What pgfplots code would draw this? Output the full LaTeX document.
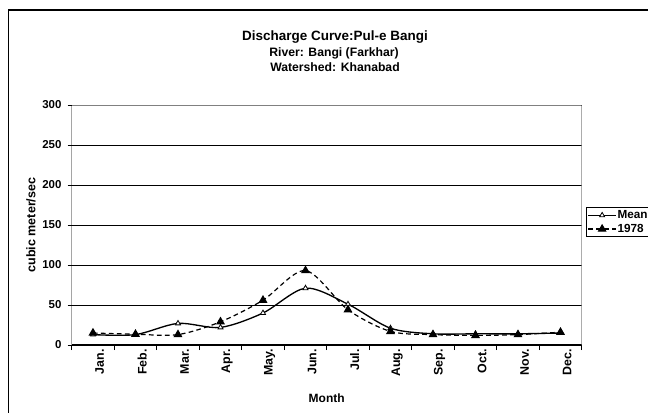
\documentclass[border=0pt]{standalone}
\usepackage{fontspec}
\setmainfont{Liberation Sans}
\usepackage{pgfplots}
\pgfplotsset{compat=1.18}
\pgfplotstableread{
m mean y1978
1 13 15
2 13 13.5
3 27 13
4 22 29
5 40 56
6 71 93
7 51 44
8 21 17
9 14 13
10 14 12
11 14 13
12 15 16
}\discharge
\begin{document}
\begin{tikzpicture}
\path[use as bounding box] (0,0) rectangle (486pt,309pt);
\fill[white] (0,0) rectangle (486pt,309pt);
\draw[line width=1pt] (6.2pt,-5pt) -- (6.2pt,301.5pt) -- (495pt,301.5pt);
\node[anchor=base, font=\bfseries\fontsize{10.1}{12}\selectfont] at (251.25pt,279pt) {Discharge Curve:Pul-e Bangi};
\node[anchor=base, font=\bfseries\fontsize{9.15}{11}\selectfont] at (250.5pt,266.6pt) {River: Bangi (Farkhar)};
\node[anchor=base, font=\bfseries\fontsize{9.15}{11}\selectfont] at (251.25pt,255.4pt) {Watershed: Khanabad};
\begin{axis}[
  at={(53.8pt,50.25pt)}, anchor=south west,
  scale only axis, width=382.5pt, height=180pt,
  xmin=0.5, xmax=12.5, ymin=0, ymax=300,
  ytick={0,50,...,300},
  xtick={1,...,12},
  xticklabels={Jan.,Feb.,Mar.,Apr.,May.,Jun.,Jul.,Aug.,Sep.,Oct.,Nov.,Dec.},
  minor xtick={0.5,1.5,...,12.5},
  xtick pos=bottom, ytick pos=left,
  axis line style={draw=none},
  tick align=outside,
  major tick length=3pt,
  minor tick length=3.75pt,
  major x tick style={draw=none},
  tick style={black, line width=0.75pt},
  ymajorgrids,
  major grid style={black, line width=0.75pt},
  /pgf/number format/assume math mode=true,
  tick label style={font=\bfseries\fontsize{8.6}{10}\selectfont},
  yticklabel style={inner sep=0pt, xshift=-4.5pt},
  xticklabel style={rotate=90, anchor=east, inner sep=0pt, yshift=-5pt, font=\bfseries\fontsize{9.3}{10}\selectfont},
  xlabel={Month},
  xlabel style={at={(axis description cs:0.5,-0.2375)}, anchor=base, font=\bfseries\fontsize{9}{11}\selectfont},
  ylabel={cubic meter/sec},
  ylabel style={at={(axis description cs:-0.0798,0.5)}, anchor=center, font=\bfseries\fontsize{9.4}{11}\selectfont},
  legend style={at={(axis description cs:1.0084,0.575)}, anchor=north west, draw=black, line width=0.75pt, fill=white,
    font=\bfseries\fontsize{8.8}{10}\selectfont, inner xsep=0.7pt, inner ysep=1.5pt, row sep=1.5pt,
    nodes={inner sep=0.6pt}},
  legend cell align=left,
  legend image code/.code={\draw[mark repeat=2,mark phase=2] plot coordinates {(0pt,0pt) (10.5pt,0pt) (21pt,0pt)};},
]
\addplot[black, line width=1pt, smooth, tension=0.5, mark=triangle*, mark size=2.2pt, mark options={solid, fill=white, line width=0.6pt}] table[x=m, y=mean] {\discharge};
\addlegendentry{Mean}
\addplot[black, line width=0.9pt, dashed, dash pattern=on 3.5pt off 2.5pt, smooth, tension=0.5, mark=triangle*, mark size=3pt, mark options={solid, fill=black}] table[x=m, y=y1978] {\discharge};
\addlegendentry{1978}
\draw[gray, line width=1.1pt] (rel axis cs:0,1) -- (rel axis cs:1,1) -- (rel axis cs:1,0);
\draw[black, line width=1.1pt] (rel axis cs:0,1) -- (rel axis cs:0,0) -- (rel axis cs:1,0);
\end{axis}
\end{tikzpicture}
\end{document}
